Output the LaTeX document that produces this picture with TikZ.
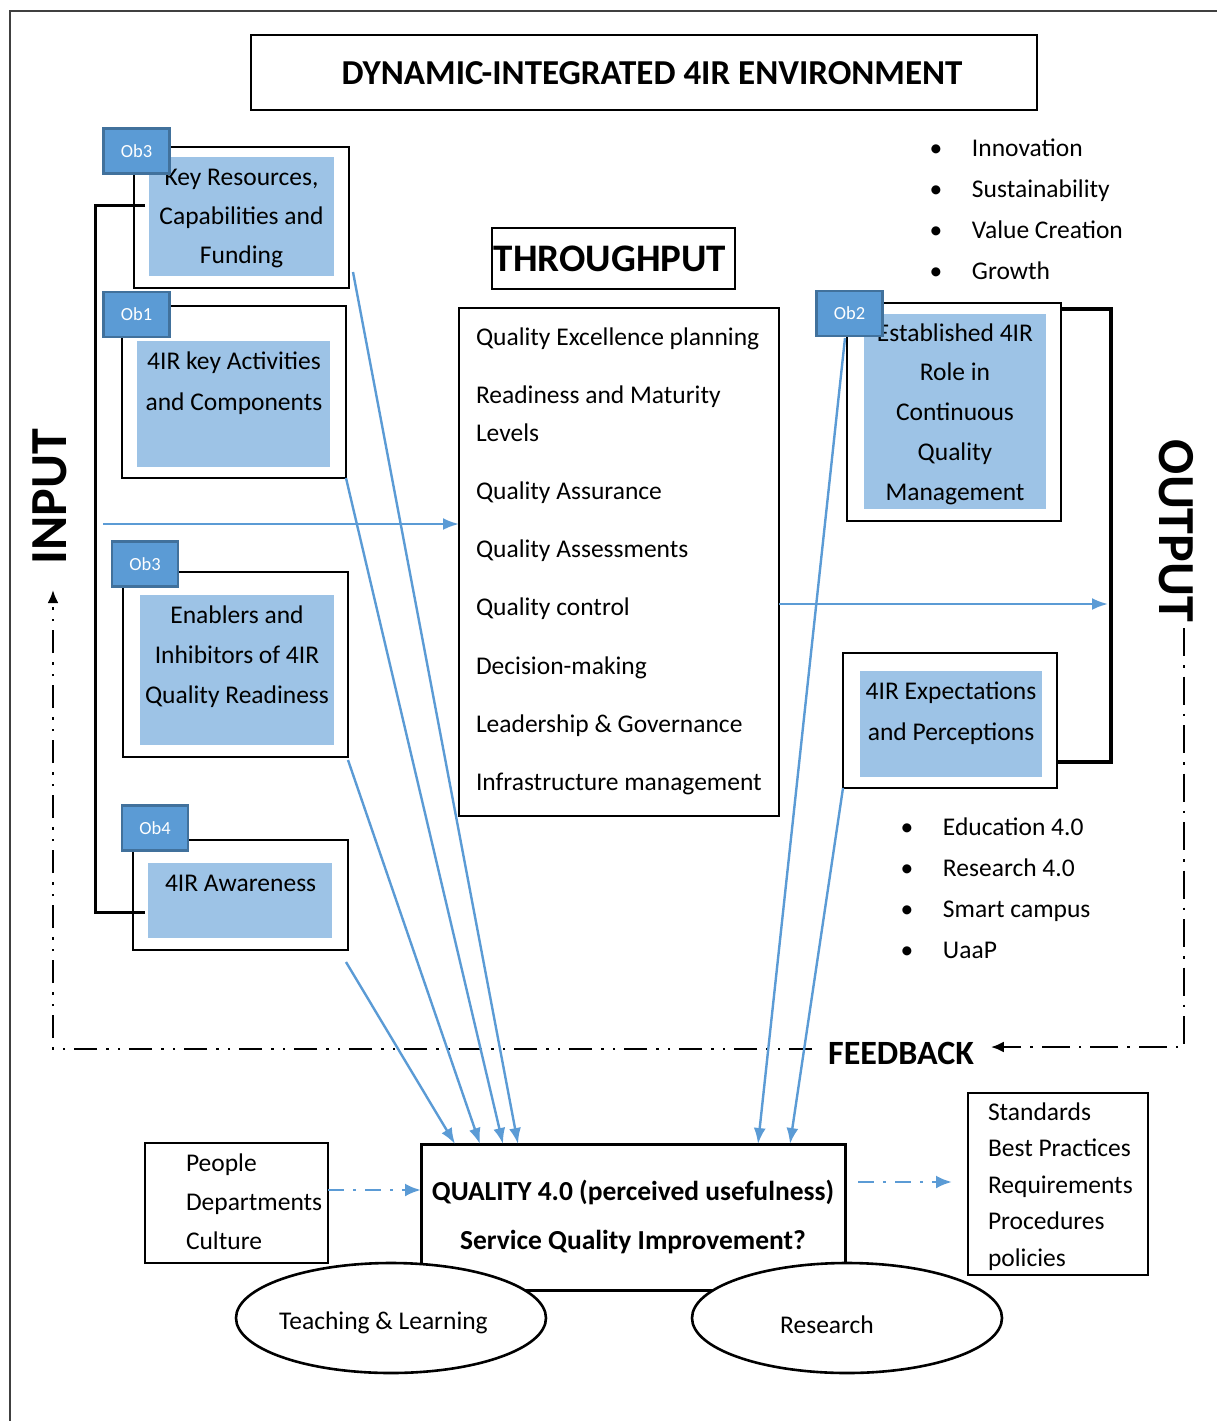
\documentclass[tikz,border=0pt]{standalone}
\usepackage{fontspec}
\setmainfont{Carlito}
\usetikzlibrary{arrows.meta,shapes.geometric}
\definecolor{tagblue}{RGB}{91,155,213}
\definecolor{tagedge}{RGB}{65,113,156}
\definecolor{paleblue}{RGB}{157,195,230}
\definecolor{linkblue}{RGB}{91,155,213}
\newcommand\fsz[2]{\fontsize{#1}{#2}\selectfont}

\begin{document}
\begin{tikzpicture}[x=1pt,y=-1pt,
  every node/.style={inner sep=0pt, outer sep=0pt},
  txt/.style={font=\fsz{25.5}{40}},
  boxsize/.style 2 args={minimum width=#1pt, minimum height=#2pt},
  frame/.style={draw=black, line width=2.6pt},
  thinframe/.style={draw=black, line width=1.5pt},
  shade/.style={fill=paleblue},
  tag/.style={fill=tagblue, draw=tagedge, line width=2.4pt, text=white,
    font=\fsz{18.5}{20}, minimum width=66pt, minimum height=45pt},
  link/.style={draw=linkblue, line width=2.4pt, -{Latex[length=16pt,width=12pt]}},
  flink/.style={draw=linkblue, line width=2.8pt,
    dash pattern=on 16pt off 9pt on 3pt off 9pt, -{Latex[length=16pt,width=13pt]}},
  fbright/.style={line width=2.4pt, dash pattern=on 28pt off 9pt on 2.5pt off 9pt,
    -{Latex[length=13pt,width=11pt]}},
  fbleft/.style={line width=2.4pt,
    dash pattern=on 23pt off 9pt on 2.5pt off 9pt on 2.5pt off 9pt,
    -{Latex[length=13pt,width=11pt]}},
  bracket/.style={line width=3pt},
  bul/.style={txt, anchor=base west},
]
\useasboundingbox (0,0) rectangle (1217,1421);

% page frame (top and left rules)
\draw[line width=2pt, black!75] (10,1421) -- (10,11) -- (1217,11);

% title
\node[frame, boxsize={786}{75}] (title) at (644,72.5) {};
\node[font=\bfseries\fsz{35}{40}] (titletxt) at (652,73) {DYNAMIC-INTEGRATED 4IR ENVIRONMENT};

% ---------------- input side ----------------
\node[frame, boxsize={215}{141}] (b1) at (241.5,217.5) {};
\node[shade, boxsize={185}{119}] (b1f) at (241.5,216.5) {};
\node[font=\fsz{25.5}{39}, align=center] (b1t) at (241.5,219)
  {Key Resources,\\Capabilities and\\Funding};
\node[tag] (ob3a) at (136.5,151) {Ob3};

\node[frame, boxsize={224}{172}] (b2) at (234,392) {};
\node[shade, boxsize={193}{126}] (b2f) at (233.5,404) {};
\node[font=\fsz{25.5}{41}, align=center] (b2t) at (234,383) {4IR key Activities\\and Components};
\node[tag] (ob1) at (136.5,314.5) {Ob1};

\node[frame, boxsize={225}{185}] (b3) at (235.5,664.5) {};
\node[shade, boxsize={194}{150}] (b3f) at (237,670) {};
\node[txt, align=center] (b3t) at (237,657) {Enablers and\\Inhibitors of 4IR\\Quality Readiness};
\node[tag] (ob3b) at (145,564) {Ob3};

\node[frame, boxsize={215}{110}] (b4) at (240.5,895) {};
\node[shade, boxsize={184}{75}] (b4f) at (240,900.5) {};
\node[bul] (b4t) at (165,891) {4IR Awareness};
\node[tag] (ob4) at (155,828) {Ob4};

% bracket joining the input boxes
\coordinate (lbA) at (145,205);
\coordinate (lbB) at (145,912);
\draw[bracket] (lbA) -- ++(-50,0) |- (lbB);

\node[font=\bfseries\fsz{52}{56}, rotate=90] (inlbl) at (50,497) {INPUT};

% ---------------- throughput ----------------
\node[thinframe, boxsize={243}{61}] (tplbl) at (613.5,258.5) {};
\node[font=\bfseries\fsz{39}{42}] (tplbltxt) at (610,259) {THROUGHPUT};

\node[thinframe, boxsize={320}{508}] (tp) at (619,562) {};
\node[bul] (tp1) at (476,345) {Quality Excellence planning};
\node[bul] (tp2) at (476,403) {Readiness and Maturity};
\node[bul] (tp3) at (476,441) {Levels};
\node[bul] (tp4) at (476,499) {Quality Assurance};
\node[bul] (tp5) at (476,557) {Quality Assessments};
\node[bul] (tp6) at (476,615) {Quality control};
\node[bul] (tp7) at (476,674) {Decision-making};
\node[bul] (tp8) at (476,732) {Leadership \& Governance};
\node[bul] (tp9) at (476,790) {Infrastructure management};

% ---------------- output side ----------------
\foreach \lbl/\yy [count=\i] in {Innovation/156, Sustainability/197, Value Creation/238, Growth/279}
  \node[bul] (topb\i) at (929.6,\yy) {\makebox[42.4pt][l]{•}\lbl};

\node[frame, boxsize={214}{218}] (b5) at (954,412) {};
\node[shade, boxsize={182}{195}] (b5f) at (955,411.5) {};
\node[font=\fsz{25.5}{39.7}, align=center] (b5t) at (955,414)
  {Established 4IR\\Role in\\Continuous\\Quality\\Management};
\node[tag] (ob2) at (849.5,313.5) {Ob2};

\node[frame, boxsize={214}{135}] (b6) at (950,720.5) {};
\node[shade, boxsize={182}{106}] (b6f) at (951,724) {};
\node[font=\fsz{25.5}{41}, align=center] (b6t) at (951,713) {4IR Expectations\\and Perceptions};

% bracket joining the output boxes
\coordinate (rbA) at (1061,309);
\coordinate (rbB) at (1057,762);
\draw[bracket, line width=3.6pt] (rbA) -- ++(50,0) |- (rbB);

\node[font=\bfseries\fsz{52}{56}, rotate=-90] (outlbl) at (1176,531) {OUTPUT};

\foreach \lbl/\yy [count=\i] in {Education 4.0/835, Research 4.0/876, Smart campus/917, UaaP/958}
  \node[bul] (botb\i) at (900.6,\yy) {\makebox[42.4pt][l]{•}\lbl};

% flow through the system
\coordinate (inS) at (103,524);
\draw[link] (inS) -- (inS -| tp.west);
\coordinate (outE) at (1108,604);
\draw[link] (outE -| tp.east) -- (outE);

% ---------------- feedback loop ----------------
\node[font=\bfseries\fsz{34}{38}] (fb) at (901,1053) {FEEDBACK};
\coordinate (fbR) at (1184,628);
\draw[fbright] (fbR) |- ([shift={(17,-6)}]fb.east);
\coordinate (fbL) at (53,590);
\draw[fbleft] ([shift={(-16,-4)}]fb.west) -| (fbL);

% ---------------- quality 4.0 ----------------
\node[frame, line width=3pt, boxsize={424}{146}, align=center,
  font=\bfseries\fsz{27.5}{49}] (q) at (633,1217)
  {QUALITY 4.0 (perceived usefulness)\\Service Quality Improvement?};

\node[thinframe, boxsize={183}{120}] (people) at (236.5,1203) {};
\node[bul] (pp1) at (186,1171) {People};
\node[bul] (pp2) at (186,1210) {Departments};
\node[bul] (pp3) at (186,1249) {Culture};

\node[thinframe, boxsize={180}{182}] (std) at (1058,1184) {};
\node[bul] (st1) at (988,1120) {Standards};
\node[bul] (st2) at (988,1156) {Best Practices};
\node[bul] (st3) at (988,1193) {Requirements};
\node[bul] (st4) at (988,1229) {Procedures};
\node[bul] (st5) at (988,1266) {policies};

\draw[flink] ([shift={(0,-13)}]people.east) -- ([shift={(0,-27)}]q.west);
\draw[flink] ([shift={(13,-35)}]q.east) -- ([shift={(-16,-2)}]std.west);

\node[ellipse, draw, line width=2.6pt, fill=white, boxsize={310}{110}] (tl) at (391,1318) {};
\node[txt] (tltxt) at (383.5,1323) {Teaching \& Learning};
\node[ellipse, draw, line width=2.6pt, fill=white, boxsize={310}{110}] (rs) at (847,1318) {};
\node[txt] (rstxt) at (827,1325) {Research};

% contributions of each element to quality 4.0
\draw[link] ([shift={(4,-16)}]b1.south east) -- ([shift={(97,0)}]q.north west);
\draw[link] (b2.south east) -- ([shift={(82,0)}]q.north west);
\draw[link] ([shift={(0,3)}]b3.south east) -- ([shift={(59,0)}]q.north west);
\draw[link] ([shift={(-2,12)}]b4.south east) -- ([shift={(34,0)}]q.north west);
\draw[link] ([shift={(-2,35)}]b5.north west) -- ([shift={(-87,0)}]q.north east);
\draw[link] (b6.south west) -- ([shift={(-55,0)}]q.north east);
\end{tikzpicture}
\end{document}
